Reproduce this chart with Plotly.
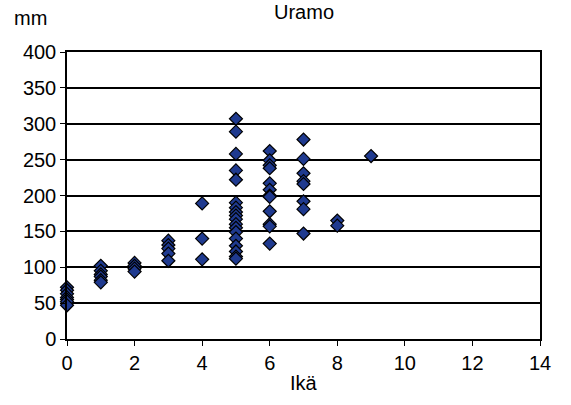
import plotly.graph_objects as go

# Data (age in years, length in mm)
age_0 = [72, 68, 63, 58, 55, 52, 47]
age_1 = [102, 95, 90, 87, 82, 79]
age_2 = [106, 102, 98, 94]
age_3 = [137, 131, 126, 119, 109]
age_4 = [189, 140, 111]
age_5 = [307, 289, 258, 235, 222, 190, 183, 177, 172, 167, 160, 155, 149, 140, 130, 122, 115, 112]
age_6 = [262, 249, 242, 238, 217, 208, 200, 198, 178, 160, 157, 133]
age_7 = [278, 251, 231, 220, 216, 192, 181, 147]
age_8 = [165, 158]
age_9 = [255]

groups = [age_0, age_1, age_2, age_3, age_4, age_5, age_6, age_7, age_8, age_9]
x_vals, y_vals = [], []
for age, vals in enumerate(groups):
    x_vals += [age] * len(vals)
    y_vals += vals

x_ticks = [0, 2, 4, 6, 8, 10, 12, 14]
y_ticks = [0, 50, 100, 150, 200, 250, 300, 350, 400]

fig = go.Figure()
fig.add_trace(go.Scatter(
    x=x_vals, y=y_vals, mode="markers",
    marker=dict(symbol="diamond", size=10, color="#1F3A8F",
                line=dict(color="black", width=1.2)),
    cliponaxis=False, showlegend=False,
))

FS = 20
font = dict(family="Liberation Sans, Arial, sans-serif", size=FS, color="black")
fig.update_layout(
    width=571, height=405,
    margin=dict(l=67, r=31, t=52, b=66),
    paper_bgcolor="white", plot_bgcolor="white",
    font=font,
    xaxis=dict(range=[0, 14], tickvals=x_ticks, ticks="outside", ticklen=5,
               tickcolor="black", showgrid=False, zeroline=False, automargin=False,
               showline=True, linecolor="black", linewidth=1.5, mirror=True,
               tickfont=dict(size=FS)),
    yaxis=dict(range=[0, 400], tickvals=y_ticks, ticks="outside", ticklen=5,
               tickcolor="black", showgrid=True, gridcolor="black", gridwidth=1.5,
               zeroline=False, showline=True, linecolor="black", linewidth=1.5,
               mirror=True, automargin=False, tickfont=dict(size=FS)),
)
fig.add_annotation(text="Uramo", xref="paper", yref="paper", x=0.5, y=1.0,
                   xanchor="center", yanchor="middle", showarrow=False,
                   font=dict(size=FS), yshift=40)
fig.add_annotation(text="mm", xref="paper", yref="paper", x=-0.078, y=1.0,
                   xanchor="center", yanchor="middle", showarrow=False,
                   font=dict(size=FS), yshift=34)
fig.add_annotation(text="Ikä", xref="paper", yref="paper", x=0.5, y=0.0,
                   xanchor="center", yanchor="middle", showarrow=False,
                   font=dict(size=FS), yshift=-44)

fig.write_html("out.html", config={"displayModeBar": False})
with open("out.html", encoding="utf-8") as f:
    html = f.read()
html = html.replace("<head>", "<head><style>html,body{margin:0;padding:0;}</style>", 1)
with open("out.html", "w", encoding="utf-8") as f:
    f.write(html)
